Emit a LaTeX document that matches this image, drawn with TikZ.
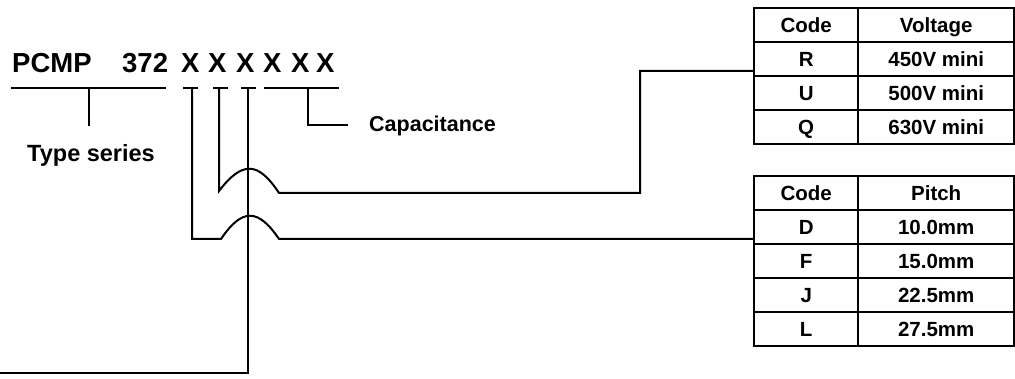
\documentclass[tikz,border=0pt]{standalone}
\usepackage{fontspec}
\setmainfont{Liberation Sans}
\begin{document}
\begin{tikzpicture}[x=1pt,y=-1pt,
  conn/.style={line width=2pt, line join=miter},
  tcell/.style={draw, line width=2.4pt, minimum height=34pt, inner sep=0pt, anchor=north west,
     text height=14.5pt, text depth=0pt,
     font=\fontsize{20.5}{22}\selectfont\bfseries},
  codecell/.style={tcell, minimum width=104pt},
  valcell/.style={tcell, minimum width=156pt},
  title/.style={anchor=base west, inner sep=0pt, font=\fontsize{27.5}{30}\selectfont\bfseries},
  lbl/.style={inner sep=0pt, font=\fontsize{21.5}{24}\selectfont\bfseries}]
\useasboundingbox (0,0) rectangle (1015,379);
% title
\node[title] (pcmp) at (12,73) {PCMP};
\node[title] (n372) at (122,73) {372};
\node[title] (x1) at (181,73) {X};
\node[title] (x2) at (208,73) {X};
\node[title] (x3) at (236,73) {X};
\node[title] (x4) at (263,73) {X};
\node[title] (x5) at (291,73) {X};
\node[title] (x6) at (316,73) {X};
% underline coordinates
\coordinate (u0a) at (11,88);  \coordinate (u0b) at (166,88);
\coordinate (u1a) at (183,88); \coordinate (u1b) at (198,88);
\coordinate (u2a) at (213,88); \coordinate (u2b) at (228,88);
\coordinate (u3a) at (241,88); \coordinate (u3b) at (256,88);
\coordinate (u4a) at (264,88); \coordinate (u4b) at (339,88);
\foreach \i in {0,...,4} {\draw[conn] (u\i a) -- (u\i b);}
% type series
\coordinate (t0) at (89,88);
\coordinate (t1) at (89,126);
\draw[conn] (t0) -- (t1);
\node[lbl, anchor=base, font=\fontsize{23.5}{26}\selectfont\bfseries] (type) at (91,162) {Type series};
% capacitance
\coordinate (c0) at (308,88);
\coordinate (c1) at (348,125);
\node[lbl, anchor=base west] (cap) at (369,132) {Capacitance};
\draw[conn] (c0) |- (c1);
% voltage table
\node[codecell] (vh1) at (753,7) {Code};
\node[valcell]  (vh2) at (857,7) {Voltage};
\node[codecell] (vr1) at (753,41) {R};
\node[valcell]  (vr2) at (857,41) {450V mini};
\node[codecell] (vu1) at (753,75) {U};
\node[valcell]  (vu2) at (857,75) {500V mini};
\node[codecell] (vq1) at (753,109) {Q};
\node[valcell]  (vq2) at (857,109) {630V mini};
% pitch table
\node[codecell] (ph1) at (753,175) {Code};
\node[valcell]  (ph2) at (857,175) {Pitch};
\node[codecell] (pd1) at (753,209) {D};
\node[valcell]  (pd2) at (857,209) {10.0mm};
\node[codecell] (pf1) at (753,243) {F};
\node[valcell]  (pf2) at (857,243) {15.0mm};
\node[codecell] (pj1) at (753,277) {J};
\node[valcell]  (pj2) at (857,277) {22.5mm};
\node[codecell] (pl1) at (753,311) {L};
\node[valcell]  (pl2) at (857,311) {27.5mm};
% voltage connector (2nd X)
\coordinate (v0) at (219,88);
\coordinate (v1) at (219,191);
\coordinate (v2) at (279,193);
\coordinate (v3) at (640,193);
\coordinate (v4) at (753,71);
\draw[conn] (v0) -- (v1) .. controls (242,161) and (258,161) .. (v2) -- (v3) |- (v4);
% pitch connector (1st X)
\coordinate (p0) at (192,88);
\coordinate (p1) at (192,239);
\coordinate (p2) at (221,239);
\coordinate (p3) at (279,239);
\coordinate (p4) at (753,239);
\draw[conn] (p0) -- (p1) -- (p2) .. controls (242,208) and (258,208) .. (p3) -- (p4);
% 3rd X connector
\coordinate (q0) at (248,88);
\coordinate (q1) at (248,373);
\coordinate (q2) at (0,373);
\draw[conn] (q0) -- (q1) -- (q2);
\end{tikzpicture}
\end{document}
